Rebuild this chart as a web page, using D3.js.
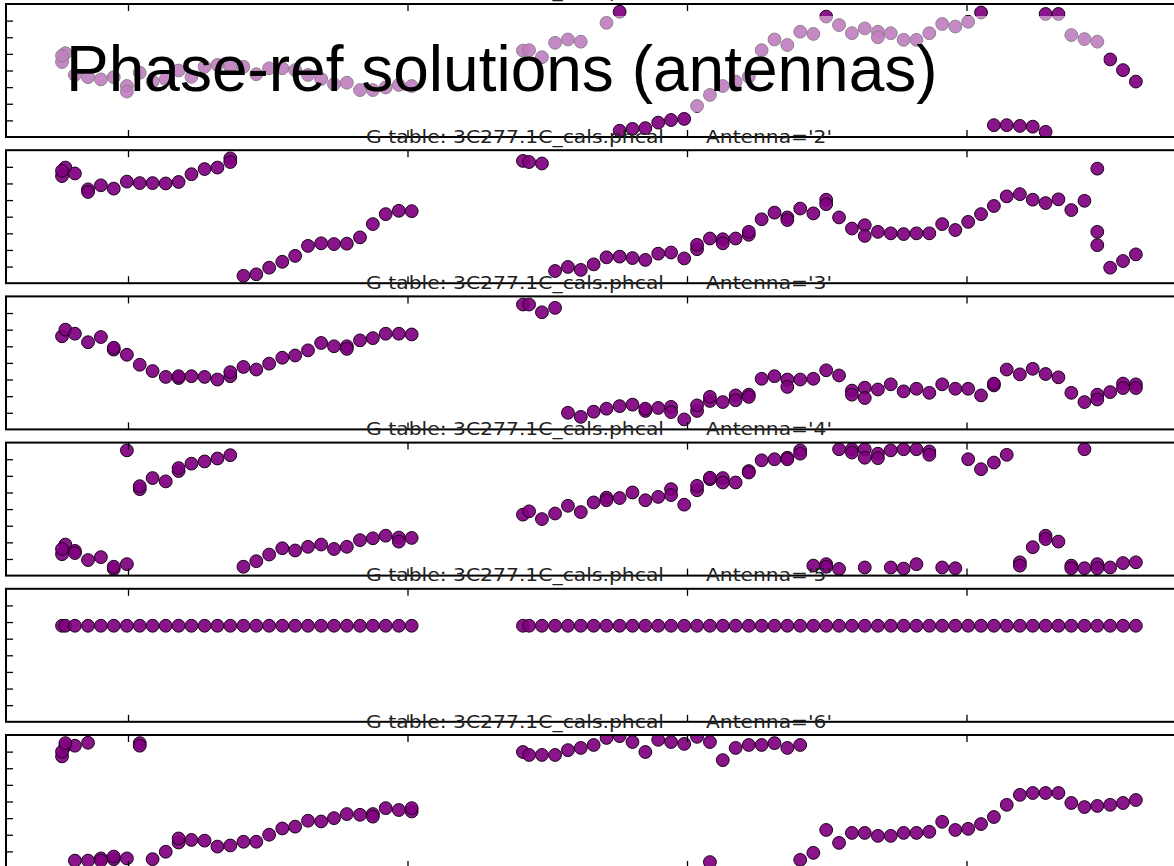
<!DOCTYPE html>
<html>
<head>
<meta charset="utf-8">
<script src="https://cdn.jsdelivr.net/npm/d3@7"></script>
<style>
  html, body { margin: 0; padding: 0; background: #ffffff; }
  svg { display: block; }
</style>
</head>
<body>
<svg id="chart" width="1174" height="866"></svg>
<script>
// Solution times (hours UT); two scans of the phase calibrator
const times = [
  12.764, 12.776, 12.810, 12.857, 12.903, 12.949, 12.996, 13.042, 13.088, 13.135,
  13.181, 13.227, 13.274, 13.320, 13.366, 13.413, 13.459, 13.505, 13.552, 13.598,
  13.644, 13.691, 13.737, 13.783, 13.830, 13.876, 13.922, 13.969, 14.015,
  14.413, 14.435, 14.481, 14.528, 14.574, 14.620, 14.666, 14.712, 14.759, 14.805,
  14.851, 14.897, 14.943, 14.990, 15.036, 15.082, 15.128, 15.174, 15.221, 15.267,
  15.313, 15.359, 15.405, 15.452, 15.498, 15.544, 15.590, 15.636, 15.683, 15.729,
  15.775, 15.821, 15.867, 15.913, 15.960, 16.006, 16.052, 16.098, 16.144, 16.191,
  16.237, 16.283, 16.329, 16.375, 16.422, 16.468, 16.514, 16.560, 16.606
];

const antennas = ["1", "2", "3", "4", "5", "6"];
const tableName = "3C277.1C_cals.phcal";
const pageTitle = "Phase-ref solutions (antennas)";

// Phase (deg), first polarisation, one value per solution time
const ant1PolA = [
  23, 47, -12, -18, -24, -18, -42, -6, -30, -24, 0, -17, 10, 15, 10, 10, -10, 6, 6, 1,
  -12, -23, -37, -33, -53, -53, -46, -39, -42,
  54, 55, 36, 75, 84, 78, null, 129, 159, -158, -156, -141, -134, -131, -96, -66, -42, -30, -17, 55,
  84, 69, 105, 99, 146, 123, 101, 114, 105, 101, 83, 83, 101, 126, 119, 132, 157, -148, -148, -150,
  -152, 153, 153, 96, 85, 78, 30, 1, -30
];
const ant2PolA = [
  110, 133, 117, 74, 85, 76, 95, 91, 91, 90, 94, 115, 129, 133, 158, -160, -156, -138, -122, -106,
  -79, -72, -74, -73, -56, -20, 7, 16, 15,
  151, 148, 144, -147, -136, -144, -129, -110, -108, -112, -117, -100, -97, -113, -88, -59, -61, -59, -49, -7,
  11, -2, 22, 9, 46, -2, -32, -23, -41, -45, -47, -45, -45, -20, -36, -14, 7, 29, 55, 61,
  46, 37, 47, 18, 43, -41, -138, -120, -102
];
const ant3PolA = [
  72, 90, 79, 56, 70, 36, 22, -5, -22, -38, -41, -36, -38, -45, -36, -11, -18, -2, 14, 20,
  34, 54, 45, 45, 61, 67, 79, 79, 77,
  158, 158, 137, 149, -135, -146, -132, -124, -117, -113, -130, -122, -119, -153, -130, -103, -106, -88, -86, -43,
  -36, -45, -45, -43, -20, -34, -75, -67, -72, -58, -77, -70, -81, -58, -70, -70, -88, -61, -18, -31,
  -16, -30, -39, -81, -106, -86, -79, -56, -58
];
const ant4PolA = [
  -122, -96, -113, -138, -130, -162, -149, 54, 84, 75, 103, 123, 129, 137, 146, -156, -141, -123, -106, -112,
  -102, -96, -108, -102, -84, -79, -72, -77, -78,
  -15, -6, -27, -12, 9, -8, 18, 31, 30, 45, 24, 33, 54, 12, 51, 81, 84, 72, 103, 132,
  135, 139, 159, -153, -149, 162, 162, 162, 150, 159, 162, 162, 156, -158, -160, 135, 108, 126, 147, -144,
  -103, -72, -88, -153, -160, -149, -158, -146, -144
];
const ant5PolA = [
  80, 80, 80, 80, 80, 80, 80, 80, 80, 80, 80, 80, 80, 80, 80, 80, 80, 80, 80, 80,
  80, 80, 80, 80, 80, 80, 80, 80, 80,
  80, 80, 80, 80, 80, 80, 80, 80, 80, 80, 80, 80, 80, 80, 80, 80, 80, 80, 80, 80,
  80, 80, 80, 80, 80, 80, 80, 80, 80, 80, 80, 80, 80, 80, 80, 80, 80, 80, 80, 80,
  80, 80, 80, 80, 80, 80, 80, 80, 80
];
const ant6PolA = [
  122, 150, 151, 159, -154, -156, -154, 158, -156, -136, -111, -104, -106, -122, -119, -109, -109, -90, -73, -68,
  -52, -54, -45, -34, -36, -34, -18, -23, -27,
  134, 126, 126, 126, 139, 145, 153, 172, 177, 161, 134, 167, 161, 156, 175, 161, 112, 145, 153, 153,
  158, 145, 153, -139, -77, -112, -85, -85, -93, -93, -85, -85, -82, -55, -77, -74, -61, -42, -9, 18,
  23, 23, 23, -4, -15, -12, -9, -4, 4
];

// Second polarisation, listed only where it separates from the first: [time, phase]
const ant1PolB = [[12.764, 40], [12.996, -57], [14.759, -163], [15.683, 90], [16.283, -166]];
const ant2PolB = [[12.764, 124], [12.857, 67], [13.366, 148], [15.036, -76], [15.128, -72],
  [15.221, -41], [15.359, -9], [15.498, 34], [15.636, -52], [16.468, 130], [16.468, -77]];
const ant3PolB = [[12.949, 41], [13.181, -36], [13.366, -25], [13.783, 38], [14.851, -124],
  [14.943, -133], [15.036, -115], [15.082, -92], [15.174, -101], [15.221, -92], [15.359, -65],
  [15.590, -86], [15.636, -95], [16.098, -56], [16.468, -99], [16.560, -68], [16.606, -68]];
const ant4PolB = [[12.764, -108], [12.810, -119], [12.949, -156], [12.996, 159], [13.042, 62],
  [13.181, 111], [13.969, -88], [14.712, 24], [14.943, 38], [15.036, 63], [15.082, 85],
  [15.128, 72], [15.221, 99], [15.359, 135], [15.405, 150], [15.498, -156], [15.544, -162],
  [15.590, 153], [15.636, 139], [15.636, -158], [15.683, 138], [15.729, -158], [15.775, -161],
  [15.821, -149], [15.867, 147], [16.191, -153], [16.283, -81], [16.375, -160], [16.422, 162],
  [16.468, -160]];
const ant5PolB = [];
const ant6PolB = [[12.764, 135], [12.776, 158], [12.810, -160], [12.857, -160], [12.903, -160],
  [12.949, -149], [13.042, 151], [13.181, -100], [13.876, -41], [14.015, -18],
  [15.082, -164], [15.405, -158]];

const polA = [ant1PolA, ant2PolA, ant3PolA, ant4PolA, ant5PolA, ant6PolA];
const polB = [ant1PolB, ant2PolB, ant3PolB, ant4PolB, ant5PolB, ant6PolB];

const phaseTicks = [-135, -90, -45, 0, 45, 90, 135];
const timeTicks = [13, 14, 15, 16];

// ---- layout ----
const svg = d3.select("#chart");
const plotLeft = 6, plotRight = 1192;
const panelTop0 = 4, panelStep = 146.2, panelH = 133;

const x = d3.scaleLinear().domain([12.5635, 16.8068]).range([plotLeft, plotRight]);
const cx = (plotLeft + plotRight) / 2;

antennas.forEach((ant, i) => {
  const top = panelTop0 + i * panelStep;
  const y = d3.scaleLinear().domain([-180, 180]).range([top + panelH, top]);
  const g = svg.append("g").attr("class", "panel");

  const clipId = "clip" + i;
  svg.append("defs").append("clipPath").attr("id", clipId)
    .append("rect").attr("x", plotLeft).attr("y", top)
    .attr("width", plotRight - plotLeft).attr("height", panelH);

  const ptsA = times.map((t, k) => [t, polA[i][k]]).filter(d => d[1] !== null);
  const ptsB = polB[i];

  const marks = g.append("g").attr("clip-path", `url(#${clipId})`);
  [ptsA, ptsB].forEach(pts => {
    marks.selectAll(null).data(pts).enter().append("circle")
      .attr("cx", d => x(d[0]))
      .attr("cy", d => y(d[1]))
      .attr("r", 6.4)
      .attr("fill", "#800080")
      .attr("fill-opacity", 0.92)
      .attr("stroke", "#1c001c")
      .attr("stroke-width", 1);
  });

  // frame
  g.append("rect")
    .attr("x", plotLeft).attr("y", top)
    .attr("width", plotRight - plotLeft).attr("height", panelH)
    .attr("fill", "none").attr("stroke", "#000").attr("stroke-width", 2);

  // inward ticks, no labels
  const styleAxis = sel => {
    sel.select(".domain").remove();
    sel.selectAll(".tick line").attr("stroke", "#000").attr("stroke-width", 1.3);
    sel.selectAll(".tick text").remove();
  };
  g.append("g").attr("transform", `translate(${plotLeft},0)`)
    .call(d3.axisLeft(y).tickValues(phaseTicks).tickSize(-7).tickFormat(""))
    .call(styleAxis);
  g.append("g").attr("transform", `translate(0,${top})`)
    .call(d3.axisTop(x).tickValues(timeTicks).tickSize(-7).tickFormat(""))
    .call(styleAxis);
  g.append("g").attr("transform", `translate(0,${top + panelH})`)
    .call(d3.axisBottom(x).tickValues(timeTicks).tickSize(-7).tickFormat(""))
    .call(styleAxis);

  // panel title above the frame
  const ty = top - 7.5;
  g.append("text")
    .attr("x", cx - 233).attr("y", ty)
    .attr("textLength", 298).attr("lengthAdjust", "spacingAndGlyphs")
    .attr("font-family", "DejaVu Sans, sans-serif").attr("font-size", 18.3)
    .attr("fill", "#222")
    .text(`G table: ${tableName}`);
  g.append("text")
    .attr("x", cx + 107).attr("y", ty)
    .attr("textLength", 126).attr("lengthAdjust", "spacingAndGlyphs")
    .attr("font-family", "DejaVu Sans, sans-serif").attr("font-size", 18.3)
    .attr("fill", "#222")
    .text(`Antenna='${ant}'`);
});

// headline with a translucent backing
svg.append("rect")
  .attr("x", 40).attr("y", 16).attr("width", 1064).attr("height", 96)
  .attr("fill", "#ffffff").attr("opacity", 0.5);
svg.append("text")
  .attr("x", 66).attr("y", 91)
  .attr("font-family", "Liberation Sans, Arial, sans-serif")
  .attr("font-size", 64)
  .attr("fill", "#000")
  .text(pageTitle);
</script>
</body>
</html>
